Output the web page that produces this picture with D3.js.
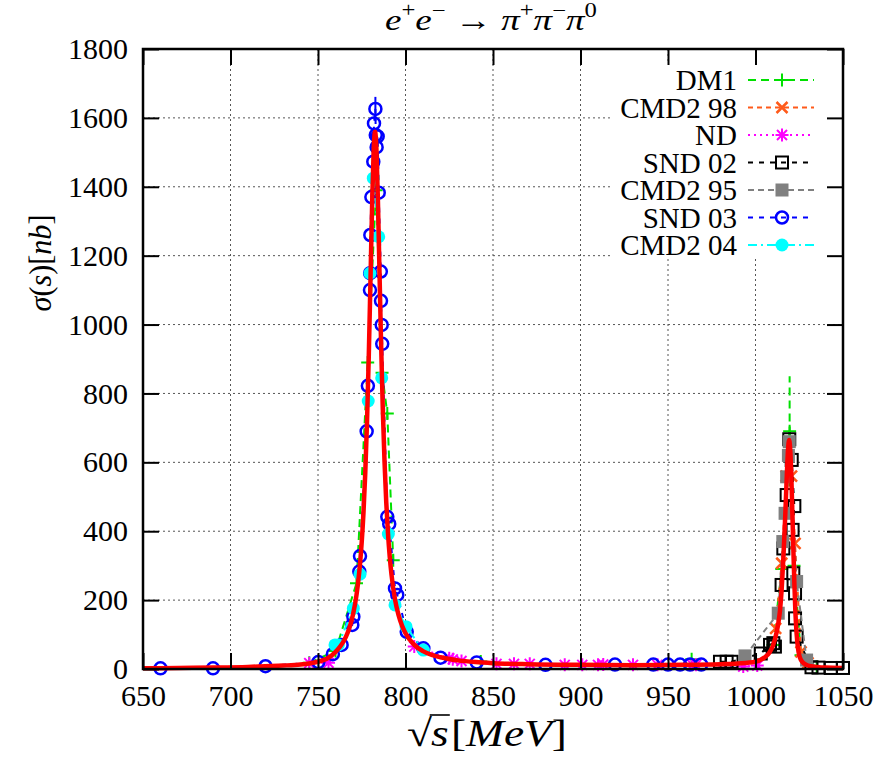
<!DOCTYPE html>
<html><head><meta charset="utf-8">
<script src="https://cdn.jsdelivr.net/npm/d3@7"></script>
<style>body{margin:0;background:#fff}svg{display:block}
svg text{font-family:"Liberation Serif","DejaVu Serif","Noto Serif","Times New Roman",serif;}</style>
</head><body>
<svg id="chart" width="878" height="762"></svg>
<script>
// ---------------- data ----------------
const xTicks = [650, 700, 750, 800, 850, 900, 950, 1000, 1050];
const yTicks = [0, 200, 400, 600, 800, 1000, 1200, 1400, 1600, 1800];
const seriesNames = ["DM1", "CMD2 98", "ND", "SND 02", "CMD2 95", "SND 03", "CMD2 04"];

// null = break in the connecting line (gap in the data file)
const dm1 = [[745,18],[760,52],[772,249],[778.4,890],[783.2,1390],[786.6,860],[789.6,742],[793,316],null,[843,22],null,[963.5,28],null,[1010,70],[1015,290],[1019.5,690],[1022,300],[1026,40],[1035,6]];
const dm1Err = [[1019.5,690,160]];
const cmd98 = [[1011.5,118],[1015,307],[1017.5,560],[1019.3,640],[1020.6,560],[1022.6,365],[1026,50],[1030,18]];
const nd = [[745,17],[756,18],null,[805,65],[825,31],[827,28],[832,23],[852,15],[862,15],[871,15],[891,12],[901,12],[910,12],[913,13],[930,12],[944,12],[964,12],[966,12],[993,7],[1001,10]];
const snd02 = [[979.7,21],[983.5,21],[986.3,21],[1003,45],[1008.3,70],[1010.2,75],[1011.1,65],[1014.9,244],[1015.9,350],[1017.8,505],[1019.3,667],[1020.7,607],[1022.2,473],[1021.2,404],[1021.6,278],[1022.6,220],[1022.6,147],[1023.5,94],[1032,5],[1036,4],[1043,3],[1050,3]];
const cmd95 = [[994,38],[1013,162],[1015.6,370],[1016.9,452],[1017.8,558],[1018.8,620],[1019.3,660],[1023.5,254],[1029.2,26]];
const snd03 = [[660,2],[690,2],[720,8],[750.2,20],[758.5,43],[763.5,70],[769.6,128],[770.2,152],[773.6,283],[774,328],[777.8,690],[778.5,822],[779.7,1100],[779.8,1149],[779.9,1260],[780.5,1370],[781.6,1473],[782,1584],[782.8,1626],[783,1550],[783.5,1515],[784.1,1546],[784.7,1383],[785.9,1154],[786,1069],[786.4,999],[786.7,944],[789.6,442],[790.7,421],[794,234],[795.3,215],[800.7,108],[810.2,60],[820,33],[840.7,19],[880,12],[919.7,13],[941.6,13],[950,13],[956.9,13],[962.6,13],[969,13]];
const snd03Err = [[782.8,1626,35]];
const cmd04 = [[759.7,70],[761.6,70],[770.2,176],[774,275],[778.7,778],[779.7,1149],[781.6,1425],[784.7,1255],[786.4,845],[790.2,392],[794,186],[800.3,123],[810.2,55]];
const fitCurve = [[650,2],[670,3],[690,4],[710,6],[720,8],[730,10],[740,13],[745,16],[750,21],[755,30],[758,40],[761,55],[764,75],[766,94],[768,120],[770,158],[772,215],[773,255],[774,305],[775,370],[776,455],[777,568],[778,716],[779,905],[780,1133],[781,1364],[781.8,1505],[782.6,1560],[783.4,1507],[784.2,1368],[785,1186],[786,955],[787,758],[788,603],[789,484],[790,394],[791,326],[792,274],[794,202],[796,157],[798,126],[800,104],[805,70],[810,52],[815,41],[820,34],[830,25],[840,20],[850,17],[870,14],[900,12],[930,11],[960,12],[980,14],[990,16],[1000,21],[1005,33],[1008,48],[1010,68],[1012,105],[1013,132],[1014,170],[1015,235],[1016,330],[1017,445],[1018,575],[1018.6,638],[1019.2,665],[1019.8,640],[1020.4,572],[1021,465],[1021.6,352],[1022.2,250],[1022.8,165],[1023.5,102],[1024.2,64],[1025,40],[1026,26],[1028,15],[1030,10],[1035,6],[1040,4],[1050,3]];

// ---------------- styles ----------------
const styles = [
  {data: dm1, err: dm1Err, color: "#00e000", dash: "8,5", marker: "plus"},
  {data: cmd98, color: "#ff5a1a", dash: "5,4", marker: "cross"},
  {data: nd, color: "#ff00ff", dash: "2,4", marker: "star"},
  {data: snd02, color: "#000000", dash: "5,6", marker: "square"},
  {data: cmd95, color: "#808080", dash: "6,4", marker: "fsquare"},
  {data: snd03, err: snd03Err, color: "#0000ff", dash: "5,6", marker: "circle"},
  {data: cmd04, color: "#00ffff", dash: "9,4,2,4", marker: "fcircle"}
];

const L = 143, R = 843, T = 49, B = 669;
const FONT = "'Liberation Serif', 'DejaVu Serif', serif";
const FS = 30;
const svg = d3.select("#chart");
svg.append("rect").attr("width", 878).attr("height", 762).attr("fill", "#fff");

const x = d3.scaleLinear().domain([650, 1050]).range([L, R]);
const y = d3.scaleLinear().domain([0, 1800]).range([B, T]);

// grid
const grid = svg.append("g").attr("stroke", "#555").attr("stroke-width", 1).attr("stroke-dasharray", "2,3");
xTicks.slice(1, -1).forEach(v => grid.append("line").attr("x1", x(v)).attr("x2", x(v)).attr("y1", T).attr("y2", B));
yTicks.slice(1, -1).forEach(v => grid.append("line").attr("x1", L).attr("x2", R).attr("y1", y(v)).attr("y2", y(v)));

function marker(g, type, cx, cy, color) {
  const s = 6.5;
  if (type === "plus") {
    g.append("path").attr("d", `M${cx-s},${cy}H${cx+s}M${cx},${cy-s}V${cy+s}`).attr("stroke", color).attr("stroke-width", 2).attr("fill", "none");
  } else if (type === "cross") {
    const d = 5.5;
    g.append("path").attr("d", `M${cx-d},${cy-d}L${cx+d},${cy+d}M${cx-d},${cy+d}L${cx+d},${cy-d}`).attr("stroke", color).attr("stroke-width", 2.5).attr("fill", "none");
  } else if (type === "star") {
    const d = 5;
    g.append("path").attr("d", `M${cx-s},${cy}H${cx+s}M${cx},${cy-s}V${cy+s}M${cx-d},${cy-d}L${cx+d},${cy+d}M${cx-d},${cy+d}L${cx+d},${cy-d}`).attr("stroke", color).attr("stroke-width", 2).attr("fill", "none");
  } else if (type === "square") {
    g.append("rect").attr("x", cx-6).attr("y", cy-6).attr("width", 12).attr("height", 12).attr("fill", "none").attr("stroke", color).attr("stroke-width", 2);
  } else if (type === "fsquare") {
    g.append("rect").attr("x", cx-6.5).attr("y", cy-6.5).attr("width", 13).attr("height", 13).attr("fill", color);
  } else if (type === "circle") {
    g.append("circle").attr("cx", cx).attr("cy", cy).attr("r", 6).attr("fill", "none").attr("stroke", color).attr("stroke-width", 2.5);
  } else if (type === "fcircle") {
    g.append("circle").attr("cx", cx).attr("cy", cy).attr("r", 6.5).attr("fill", color);
  }
}

const line = d3.line().defined(d => d !== null).x(d => x(d[0])).y(d => y(d[1]));
const plotG = svg.append("g");
styles.forEach(st => {
  const g = plotG.append("g");
  g.append("path").attr("d", line(st.data)).attr("fill", "none").attr("stroke", st.color).attr("stroke-width", 2).attr("stroke-dasharray", st.dash);
  (st.err || []).forEach(e => {
    g.append("line").attr("x1", x(e[0])).attr("x2", x(e[0])).attr("y1", y(e[1]-e[2])).attr("y2", y(e[1]+e[2]))
      .attr("stroke", st.color).attr("stroke-width", 2).attr("stroke-dasharray", st.marker === "plus" ? st.dash : null);
  });
  st.data.filter(d => d !== null).forEach(d => marker(g, st.marker, x(d[0]), y(d[1]), st.color));
});

// fit curve
const fitLine = d3.line().x(d => x(d[0])).y(d => y(d[1])).curve(d3.curveMonotoneX);
svg.append("path").attr("d", fitLine(fitCurve)).attr("fill", "none").attr("stroke", "#ff0000").attr("stroke-width", 4.5).attr("stroke-linejoin", "round");

// legend
const leg = svg.append("g");
leg.append("rect").attr("x", 612).attr("y", 64).attr("width", 230).attr("height", 194).attr("fill", "#fff");
styles.forEach((st, i) => {
  const ry = 80 + i * 27.5;
  leg.append("text").attr("x", 737).attr("y", ry + 10).attr("text-anchor", "end")
    .style("font-family", FONT).attr("font-size", 29).attr("fill", "#000").text(seriesNames[i]);
  leg.append("line").attr("x1", 748).attr("x2", 814).attr("y1", ry).attr("y2", ry)
    .attr("stroke", st.color).attr("stroke-width", 2).attr("stroke-dasharray", st.dash);
  marker(leg, st.marker, 782, ry, st.color);
});

// axes (frame + inward ticks)
function styleAxis(g) {
  g.attr("font-family", null).attr("font-size", null);
  g.select(".domain").remove();
  g.selectAll(".tick line").attr("stroke", "#000").attr("stroke-width", 2);
  g.selectAll("text").attr("font-size", FS).attr("style", `font-family:${FONT};font-weight:normal`).attr("fill", "#000");
}
svg.append("g").attr("transform", `translate(0,${B})`)
  .call(d3.axisBottom(x).tickValues(xTicks).tickSizeInner(-16).tickSizeOuter(0).tickPadding(16).tickFormat(d3.format("d"))).call(styleAxis);
svg.append("g").attr("transform", `translate(0,${T})`)
  .call(d3.axisTop(x).tickValues(xTicks).tickSizeInner(-16).tickSizeOuter(0).tickFormat("")).call(styleAxis);
svg.append("g").attr("transform", `translate(${L},0)`)
  .call(d3.axisLeft(y).tickValues(yTicks).tickSizeInner(-16).tickSizeOuter(0).tickPadding(15).tickFormat(d3.format("d"))).call(styleAxis);
svg.append("g").attr("transform", `translate(${R},0)`)
  .call(d3.axisRight(y).tickValues(yTicks).tickSizeInner(-16).tickSizeOuter(0).tickFormat("")).call(styleAxis);
svg.append("rect").attr("x", L).attr("y", T).attr("width", R - L).attr("height", B - T)
  .attr("fill", "none").attr("stroke", "#000").attr("stroke-width", 2.5);

// helper: build a text from parts [str, italic, sup]
function mathText(g, parts, size, supSize) {
  const t = g.append("text").attr("x", 0).attr("y", 0).style("font-family", FONT).attr("font-size", size).attr("fill", "#000").attr("xml:space", "preserve");
  let prev = 0;
  parts.forEach(p => {
    const ts = t.append("tspan").text(p[0]).attr("font-style", p[1] ? "italic" : "normal");
    if (p[2]) ts.attr("font-size", supSize);
    const shift = (p[2] ? -0.42 * size : 0) - (prev ? -0.42 * size : 0);
    if (shift) ts.attr("dy", shift);
    prev = p[2];
  });
  return t;
}
function fitPlace(g, cx, baseline, targetW) {
  const bb = g.node().getBBox();
  const k = targetW / bb.width;
  g.attr("transform", `translate(${cx - (bb.x + bb.width / 2) * k},${baseline}) scale(${k},1)`);
}

// title
const titleG = svg.append("g");
mathText(titleG, [["e",1,0],["+",0,1],["e",1,0],["\u2212",0,1],[" \u2192 ",0,0],["\u03C0",1,0],["+",0,1],["\u03C0",1,0],["\u2212",0,1],["\u03C0",1,0],["0",0,1]], 30, 20);
fitPlace(titleG, 491, 30, 212);

// y label
const ylG = svg.append("g");
const ylInner = ylG.append("g");
mathText(ylInner, [["\u03C3",1,0],["(",0,0],["s",1,0],[")",0,0],["[",0,0],["nb",1,0],["]",0,0]], 31, 20);
{
  const bb = ylInner.node().getBBox();
  const k = 97 / bb.width;
  ylInner.attr("transform", `scale(${k},1) translate(${-(bb.x + bb.width / 2)},0)`);
  ylG.attr("transform", "translate(51,263) rotate(-90)");
}

// x label with radical
const xl = svg.append("g");
const rad = xl.append("text").attr("x", 0).attr("y", 0).style("font-family", FONT).attr("font-size", 38).attr("fill", "#000").text("\u221A");
const rb = rad.node().getBBox();
const sT = xl.append("text").attr("x", rb.x + rb.width - 1).attr("y", 0).style("font-family", FONT).attr("font-size", 38).attr("font-style", "italic").attr("fill", "#000").text("s");
const sb = sT.node().getBBox();
const rest = xl.append("text").attr("x", sb.x + sb.width + 2).attr("y", 0).style("font-family", FONT).attr("font-size", 38).attr("fill", "#000");
[["[", 0], ["MeV", 1], ["]", 0]].forEach(p => rest.append("tspan").text(p[0]).attr("font-style", p[1] ? "italic" : "normal"));
xl.append("line").attr("x1", rb.x + rb.width - 2).attr("x2", sb.x + sb.width + 1).attr("y1", rb.y + 3).attr("y2", rb.y + 3).attr("stroke", "#000").attr("stroke-width", 1.6);
fitPlace(xl, 487, 746, 160);
</script>
</body></html>
